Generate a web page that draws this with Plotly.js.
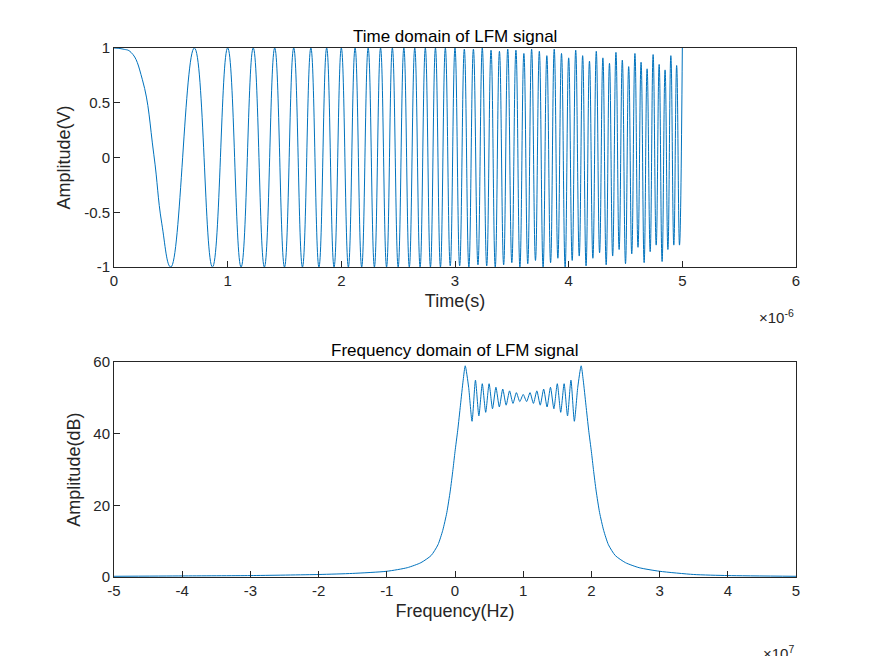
<!DOCTYPE html>
<html>
<head>
<meta charset="utf-8">
<script src="https://cdn.plot.ly/plotly-3.0.1.min.js"></script>
<style>body{margin:0;background:#fff}</style>
</head>
<body>
<div id="chart" style="width:875px;height:656px"></div>
<script>
// time-domain samples (microseconds, volts)
const timeUs = [0, 0.08, 0.15, 0.25, 0.35, 0.42, 0.5, 0.707, 0.866, 1, 1.118, 1.225, 1.323, 1.414, 1.5, 1.581, 1.658, 1.732, 1.803, 1.871, 1.936,
  2, 2.062, 2.121, 2.179, 2.236, 2.291, 2.345, 2.398, 2.449, 2.5, 2.55, 2.598, 2.646, 2.693, 2.739, 2.784, 2.828,
  2.872, 2.915, 2.958, 3, 3.041, 3.082, 3.122, 3.162, 3.202, 3.240, 3.279, 3.317, 3.354, 3.391, 3.428, 3.464, 3.5,
  3.536, 3.571, 3.606, 3.640, 3.674, 3.708, 3.742, 3.775, 3.808, 3.841, 3.873, 3.905, 3.937, 3.969, 4, 4.031, 4.062,
  4.093, 4.123, 4.153, 4.183, 4.213, 4.243, 4.272, 4.301, 4.330, 4.359, 4.387, 4.416, 4.444, 4.472, 4.5, 4.528,
  4.555, 4.583, 4.610, 4.637, 4.664, 4.690, 4.717, 4.743, 4.770, 4.796, 4.822, 4.848, 4.873, 4.899, 4.925, 4.950,
  4.975, 5];
const amplitudeV = [1, 0.99, 0.96, 0.71, 0.03, -0.6, -1, 1, -1, 1, -1, 1, -1, 1, -1, 1, -1, 1, -1, 1, -1, 1, -1, 1, -1, 1, -1, 1, -1, 1, -1,
  1, -1, 1, -1, 1, -1, 1, -1, 1, -0.99, 1, -0.99, 0.99, -1, 0.99, -0.98, 1, -0.99, 0.98, -1, 0.97, -0.98, 0.99,
  -0.96, 0.98, -1, 0.95, -0.97, 0.99, -0.94, 0.97, -1, 0.93, -0.96, 0.99, -0.92, 0.95, -1, 0.91, -0.94, 0.98,
  -0.9, 0.93, -0.99, 0.88, -0.92, 0.97, -0.87, 0.91, -0.98, 0.86, -0.9, 0.96, -0.84, 0.89, -0.97, 0.83, -0.88,
  0.95, -0.82, 0.87, -0.96, 0.81, -0.86, 0.94, -0.8, 0.85, -0.95, 0.8, -0.84, 0.93, -0.8, 0.84, -0.8, 1];

// spectrum (x 1e7 Hz, dB)
const freq = [-5, -4, -3, -2, -1.5, -1, -0.7, -0.5, -0.35, -0.25, -0.18, -0.12, -0.07, -0.03, 0, 0.04, 0.08, 0.12, 0.15, 0.2,
  0.25, 0.3, 0.35, 0.4, 0.45, 0.5, 0.55, 0.6, 0.65, 0.7, 0.75, 0.8, 0.85, 0.9, 0.95, 1, 1.05, 1.1, 1.15, 1.2,
  1.25, 1.3, 1.35, 1.4, 1.45, 1.5, 1.55, 1.6, 1.65, 1.7, 1.75, 1.8, 1.85, 1.88, 1.92, 1.96, 2, 2.03, 2.07, 2.12, 2.18, 2.25, 2.35,
  2.5, 2.7, 3, 3.5, 4, 5];
const dB = [0.2, 0.3, 0.4, 0.7, 1, 1.6, 2.6, 4, 6, 9, 13, 18, 24, 30, 35, 41, 48, 55, 59, 53,
  43.5, 55, 45, 54, 46, 54, 47, 53, 47.5, 52.5, 48, 52, 48.5, 51.5, 49, 51, 49, 51.5, 48.5, 52,
  48, 52.5, 47.5, 53, 47, 54, 46, 54, 45, 55, 43.5, 53, 59, 55, 48, 41, 35, 30, 24, 18, 13, 9, 6,
  4, 2.6, 1.6, 0.7, 0.4, 0.2];

const blue = '#0072BD';
const font = {family: 'Liberation Sans, Arial, sans-serif', size: 15, color: '#262626'};
const axBase = {showgrid: false, zeroline: false, mirror: true, showline: true, linecolor: '#262626',
  linewidth: 1, ticks: 'inside', ticklen: 6, tickcolor: '#262626', tickfont: {size: 15}};

const data = [
  {x: timeUs, y: amplitudeV, mode: 'lines', line: {color: blue, width: 1, shape: 'spline', smoothing: 1.3},
   xaxis: 'x', yaxis: 'y', hoverinfo: 'none'},
  {x: freq, y: dB, mode: 'lines', line: {color: blue, width: 1, shape: 'spline', smoothing: 0.6},
   xaxis: 'x2', yaxis: 'y2', hoverinfo: 'none'}
];

const layout = {
  width: 875, height: 656, showlegend: false, font: font,
  paper_bgcolor: '#fff', plot_bgcolor: '#fff',
  margin: {l: 114, r: 79, t: 48, b: 79},
  xaxis: Object.assign({}, axBase, {domain: [0, 1], anchor: 'y', range: [0, 6],
    tickvals: [0, 1, 2, 3, 4, 5, 6], ticktext: ['0', '1', '2', '3', '4', '5', '6'],
    title: {text: 'Time(s)', font: {size: 18}, standoff: 6}}),
  yaxis: Object.assign({}, axBase, {domain: [0.586, 1], anchor: 'x', range: [-1, 1],
    tickvals: [-1, -0.5, 0, 0.5, 1], ticktext: ['-1', '-0.5', '0', '0.5', '1'],
    title: {text: 'Amplitude(V)', font: {size: 18}, standoff: 8}}),
  xaxis2: Object.assign({}, axBase, {domain: [0, 1], anchor: 'y2', range: [-5, 5],
    tickvals: [-5, -4, -3, -2, -1, 0, 1, 2, 3, 4, 5],
    ticktext: ['-5', '-4', '-3', '-2', '-1', '0', '1', '2', '3', '4', '5'],
    title: {text: 'Frequency(Hz)', font: {size: 18}, standoff: 6}}),
  yaxis2: Object.assign({}, axBase, {domain: [0, 0.406], anchor: 'x2', range: [0, 60], dtick: 20,
    title: {text: 'Amplitude(dB)', font: {size: 18}, standoff: 8}}),
  annotations: [
    {text: 'Time domain of LFM signal', xref: 'paper', yref: 'paper', x: 0.5, y: 1, yanchor: 'bottom',
     showarrow: false, font: {size: 17, color: '#000'}},
    {text: 'Frequency domain of LFM signal', xref: 'paper', yref: 'paper', x: 0.5, y: 0.406, yanchor: 'bottom',
     showarrow: false, font: {size: 17, color: '#000'}},
    {text: '×10<sup>-6</sup>', xref: 'paper', yref: 'paper', x: 1, y: 0.586, yshift: -38, xanchor: 'right',
     yanchor: 'top', showarrow: false, font: {size: 15}},
    {text: '×10<sup>7</sup>', xref: 'paper', yref: 'paper', x: 1, y: 0, yshift: -64, xanchor: 'right',
     yanchor: 'top', showarrow: false, font: {size: 15}}
  ]
};

Plotly.newPlot('chart', data, layout, {staticPlot: true});
</script>
</body>
</html>
